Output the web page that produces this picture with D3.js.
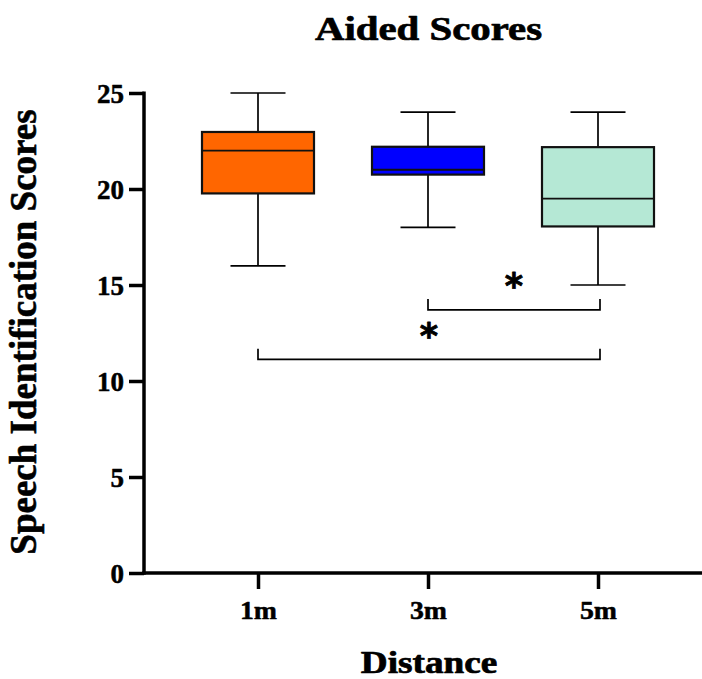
<!DOCTYPE html>
<html><head><meta charset="utf-8">
<script src="https://cdn.jsdelivr.net/npm/d3@7"></script>
<style>body{margin:0;background:#fff}svg{display:block}</style>
</head><body>
<script>
const categories = ["1m", "3m", "5m"];
const whiskerLow = [16, 18, 15];
const q1 = [19.77, 20.75, 18.05];
const median = [22, 21, 19.5];
const q3 = [22.97, 22.2, 22.18];
const whiskerHigh = [25, 24, 24];
const colors = ["#FF6600", "#0000FF", "#B5E8D5"];
const yTicks = [0, 5, 10, 15, 20, 25];
const brackets = [
  {from: "3m", to: "5m", y: 13.7, tip: 14.27, label: "*", labelY: 15.08},
  {from: "1m", to: "5m", y: 11.13, tip: 11.68, label: "*", labelY: 12.47}
];

const W = 702, H = 679;
const svg = d3.select("body").append("svg").attr("width", W).attr("height", H);
const font = "'Liberation Serif', 'Times New Roman', serif";

const y = d3.scaleLinear().domain([0, 25]).range([573, 93]);
const x = d3.scalePoint().domain(categories).range([258, 598]);
const axisX0 = 144;

function heavy(sel, w) {
  sel.attr("stroke", "#000").attr("stroke-width", w).attr("stroke-linejoin", "round").attr("fill", "#000");
}

// Axes
const yAxis = d3.axisLeft(y).tickValues(yTicks).tickSize(15).tickPadding(5);
const gy = svg.append("g").attr("transform", `translate(${axisX0},0)`).call(yAxis);
gy.select(".domain").attr("stroke", "#000").attr("stroke-width", 3.5).attr("d", `M0,${y(25)-1.5}V${y(0)+1.75}`);
gy.selectAll(".tick line").attr("stroke", "#000").attr("stroke-width", 3.5);
gy.selectAll(".tick text").attr("font-family", font).attr("font-weight", "bold").attr("font-size", 27).attr("dy", "0.34em").call(heavy, 0.5);

const xAxis = d3.axisBottom(x).tickSize(16).tickPadding(12);
const gx = svg.append("g").attr("transform", `translate(0,${y(0)})`).call(xAxis);
gx.select(".domain").attr("stroke", "#000").attr("stroke-width", 3.5).attr("d", `M${axisX0-1.75},0H${W}`);
gx.selectAll(".tick line").attr("stroke", "#000").attr("stroke-width", 3.5);
gx.selectAll(".tick text").attr("font-family", font).attr("font-weight", "bold").attr("font-size", 26)
  .attr("transform", "scale(1.07,1)").attr("x", function(){ return 0; }).call(heavy, 0.5);

// Boxes
const boxW = 112, capW = 55;
const g = svg.append("g");
categories.forEach((c, i) => {
  const cx = x(c);
  g.append("line").attr("x1", cx).attr("x2", cx).attr("y1", y(whiskerHigh[i])).attr("y2", y(q3[i])).attr("stroke", "#000").attr("stroke-width", 1.7);
  g.append("line").attr("x1", cx).attr("x2", cx).attr("y1", y(q1[i])).attr("y2", y(whiskerLow[i])).attr("stroke", "#000").attr("stroke-width", 1.7);
  [whiskerHigh[i], whiskerLow[i]].forEach(v => {
    g.append("line").attr("x1", cx - capW/2).attr("x2", cx + capW/2).attr("y1", y(v)).attr("y2", y(v)).attr("stroke", "#000").attr("stroke-width", 1.7);
  });
  g.append("rect").attr("x", cx - boxW/2).attr("width", boxW).attr("y", y(q3[i])).attr("height", y(q1[i]) - y(q3[i]))
    .attr("fill", colors[i]).attr("stroke", "#111").attr("stroke-width", 2.2);
  g.append("line").attr("x1", cx - boxW/2).attr("x2", cx + boxW/2).attr("y1", y(median[i])).attr("y2", y(median[i])).attr("stroke", "#111").attr("stroke-width", 1.9);
});

// Significance brackets
brackets.forEach(b => {
  const x1 = x(b.from), x2 = x(b.to) + 2;
  g.append("path").attr("d", `M${x1},${y(b.tip)}V${y(b.y)}H${x2}V${y(b.tip)}`).attr("fill", "none").attr("stroke", "#000").attr("stroke-width", 1.7);
  g.append("text").attr("x", (x1 + x2)/2).attr("y", y(b.labelY)).attr("text-anchor", "middle").attr("dominant-baseline", "middle")
    .attr("font-family", "'DejaVu Sans', sans-serif").attr("font-weight", "bold").attr("font-size", 35).attr("dy", "0.14em").call(heavy, 0.8).text(b.label);
});

// Titles (reference type is slightly wide, so stretch horizontally)
svg.append("text").attr("transform", "translate(428.5,40) scale(1.2,1)").attr("text-anchor", "middle").attr("font-family", font).attr("font-weight", "bold").attr("font-size", 34).call(heavy, 0.7).text("Aided Scores");
svg.append("text").attr("transform", "translate(429,673) scale(1.2,1)").attr("text-anchor", "middle").attr("font-family", font).attr("font-weight", "bold").attr("font-size", 31).call(heavy, 0.7).text("Distance");
svg.append("text").attr("transform", `translate(36,332) rotate(-90)`).attr("text-anchor", "middle").attr("font-family", font).attr("font-weight", "bold").attr("font-size", 37).call(heavy, 0.6).text("Speech Identification Scores");
</script>
</body></html>
